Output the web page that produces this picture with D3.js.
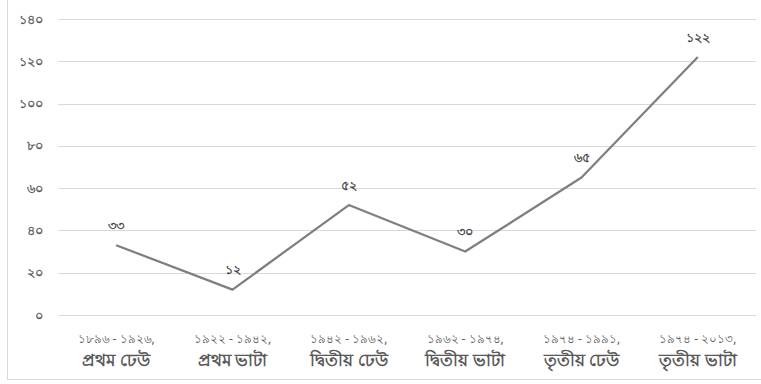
<!DOCTYPE html>
<html><head><meta charset="utf-8">
<script src="https://cdn.jsdelivr.net/npm/d3@7"></script>
<style>body{margin:0;background:#fff;}svg{display:block;}</style>
</head><body>
<script>
const periods = ["১৮৯৬ - ১৯২৬,", "১৯২২ - ১৯৪২,", "১৯৪২ - ১৯৬২,", "১৯৬২ - ১৯৭৪,", "১৯৭৪ - ১৯৯১,", "১৯৭৪ - ২০১৩,"];
const phases = ["প্রথম ঢেউ", "প্রথম ভাটা", "দ্বিতীয় ঢেউ", "দ্বিতীয় ভাটা", "তৃতীয় ঢেউ", "তৃতীয় ভাটা"];
const values = [33, 12, 52, 30, 65, 122];
const yTicks = [0, 20, 40, 60, 80, 100, 120, 140];

const bn = n => String(n).replace(/[0-9]/g, d => "০১২৩৪৫৬৭৮৯"[+d]);
const W = 761, H = 384;
const svg = d3.select("body").append("svg").attr("width", W).attr("height", H);
const font = "'Noto Sans', 'DejaVu Sans', sans-serif";

// frame
svg.append("line").attr("x1", 7.5).attr("x2", 7.5).attr("y1", 0).attr("y2", 379.5).attr("stroke", "#d9d9d9");
svg.append("line").attr("x1", 7).attr("x2", W).attr("y1", 379.5).attr("y2", 379.5).attr("stroke", "#d9d9d9");

const x = d3.scaleBand().domain(d3.range(values.length)).range([58, 756]);
const y = d3.scaleLinear().domain([0, 140]).range([315, 19]);

// gridlines
svg.append("g").selectAll("line").data(yTicks).join("line")
  .attr("x1", 58).attr("x2", 756)
  .attr("y1", d => Math.round(y(d)) + 0.5).attr("y2", d => Math.round(y(d)) + 0.5)
  .attr("stroke", "#d9d9d9").attr("stroke-width", 1);

// y labels
svg.append("g").selectAll("text").data(yTicks).join("text")
  .attr("x", 43).attr("y", d => y(d)).attr("dy", "0.35em")
  .attr("text-anchor", "end").attr("font-family", font).attr("font-size", 13)
  .attr("fill", "#595959").attr("stroke", "#595959").attr("stroke-width", 0.35)
  .text(d => bn(d));

// category labels
const cx = i => x(i) + x.bandwidth() / 2;
svg.append("g").selectAll("text").data(periods).join("text")
  .attr("x", (d, i) => cx(i)).attr("y", 339).attr("dy", "0.35em")
  .attr("text-anchor", "middle").attr("font-family", font).attr("font-size", 12)
  .attr("fill", "#595959").text(d => d);
svg.append("g").selectAll("text").data(phases).join("text")
  .attr("x", (d, i) => cx(i)).attr("y", 360).attr("dy", "0.35em")
  .attr("text-anchor", "middle").attr("font-family", font).attr("font-size", 17)
  .attr("font-weight", "bold").attr("fill", "#595959").text(d => d);

// line
const line = d3.line().x((d, i) => cx(i)).y(d => y(d));
svg.append("path").datum(values).attr("d", line)
  .attr("fill", "none").attr("stroke", "#7f7f7f").attr("stroke-width", 2.25)
  .attr("stroke-linejoin", "round");

// data labels
svg.append("g").selectAll("text").data(values).join("text")
  .attr("x", (d, i) => cx(i)).attr("y", d => y(d) - 20).attr("dy", "0.35em")
  .attr("text-anchor", "middle").attr("font-family", font).attr("font-size", 13)
  .attr("fill", "#404040").attr("stroke", "#404040").attr("stroke-width", 0.35)
  .text(d => bn(d));
</script>
</body></html>
